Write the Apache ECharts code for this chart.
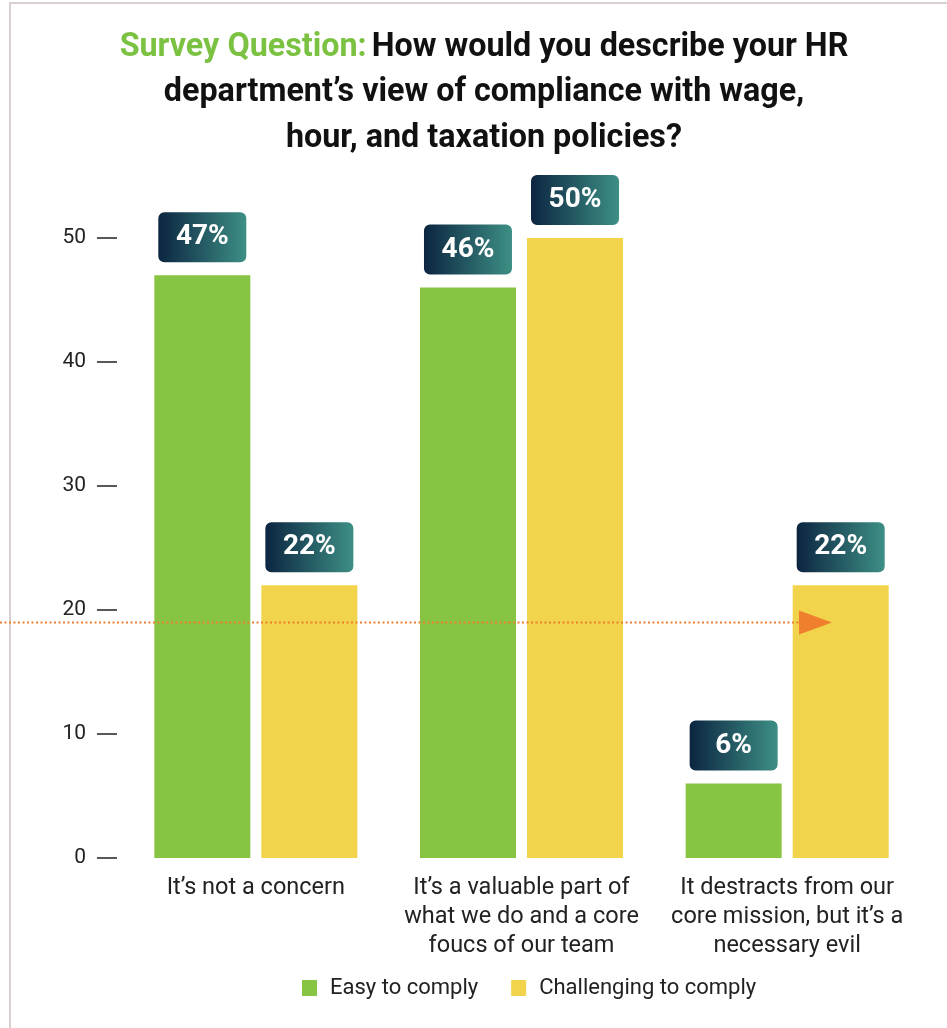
<!DOCTYPE html>
<html>
<head>
<meta charset="utf-8">
<script src="https://cdn.jsdelivr.net/npm/echarts@6/dist/echarts.min.js"></script>
<style>
  html, body { margin: 0; padding: 0; background: #ffffff; }
  #chart { width: 947px; height: 1028px; }
</style>
</head>
<body>
<div id="chart"></div>
<script>
// Answer categories (x axis)
const categories = [
  "It\u2019s not a concern",
  "It\u2019s a valuable part of\nwhat we do and a core\nfoucs of our team",
  "It destracts from our\ncore mission, but it\u2019s a\nnecessary evil"
];
// Share of respondents (%) per group
const easyValues = [47, 46, 6];
const challengingValues = [22, 50, 22];
const seriesNames = ["Easy to comply", "Challenging to comply"];
// Reference level marked by the orange arrow
const arrowLevel = 19;
// Y axis ticks
const yMin = 0, yMax = 50, yStep = 10;

const GREEN = "#87c443";
const YELLOW = "#f1d44b";
const FONT = "Roboto, 'Noto Sans', sans-serif";

const badgeFill = new echarts.graphic.LinearGradient(0, 0, 1, 0, [
  { offset: 0, color: "#0c2541" },
  { offset: 1, color: "#3d8f85" }
]);

const badgeLabel = {
  show: true,
  position: "top",
  distance: 13,
  formatter: "{c}%",
  color: "#ffffff",
  fontFamily: FONT,
  fontWeight: "bold",
  fontSize: 28,
  backgroundColor: badgeFill,
  borderRadius: 6,
  width: 88,
  height: 50,
  lineHeight: 50,
  align: "center"
};

const chart = echarts.init(document.getElementById("chart"), null, { renderer: "canvas" });

chart.setOption({
  backgroundColor: "#ffffff",
  animation: false,
  title: {
    left: 484,
    top: 25,
    padding: 0,
    textAlign: "center",
    text: "{g|Survey Question:} {b|How would you describe your HR}\n{b|department\u2019s view of compliance with wage,}\n{b|hour, and taxation policies?}",
    textStyle: {
      rich: {
        g: { color: "#7cc242", fontFamily: FONT, fontWeight: "bold", fontSize: 32.3, lineHeight: 45.5 },
        b: { color: "#111111", fontFamily: FONT, fontWeight: "bold", fontSize: 32.3, lineHeight: 45.5 }
      }
    }
  },
  legend: {
    left: 297,
    top: 972,
    itemWidth: 15,
    itemHeight: 16,
    itemGap: 33,
    icon: "rect",
    textStyle: { color: "#222222", fontFamily: FONT, fontSize: 22, padding: [0, 0, 0, 8] },
    data: seriesNames
  },
  grid: { left: 123, right: 27, top: 238, bottom: 170, containLabel: false },
  xAxis: {
    type: "category",
    data: categories,
    axisLine: { show: false },
    axisTick: { show: false },
    axisLabel: {
      color: "#222222",
      fontFamily: FONT,
      fontSize: 23.5,
      lineHeight: 29,
      margin: 16,
      interval: 0
    }
  },
  yAxis: {
    type: "value",
    min: yMin,
    max: yMax,
    interval: yStep,
    offset: 6,
    splitLine: { show: false },
    axisLine: { show: false },
    axisTick: { show: true, length: 20, lineStyle: { color: "#222222", width: 1.5 } },
    axisLabel: { color: "#222222", fontFamily: FONT, fontSize: 21, margin: 31 }
  },
  series: [
    {
      name: seriesNames[0],
      type: "bar",
      data: easyValues,
      barWidth: 96,
      barGap: "11.5%",
      itemStyle: { color: GREEN },
      label: badgeLabel
    },
    {
      name: seriesNames[1],
      type: "bar",
      data: challengingValues,
      barWidth: 96,
      barGap: "11.5%",
      itemStyle: { color: YELLOW },
      label: badgeLabel
    }
  ]
});

// Frame lines and the dotted orange arrow at the reference level
const yPix = chart.convertToPixel({ yAxisIndex: 0 }, arrowLevel);
chart.setOption({
  graphic: [
    { type: "rect", shape: { x: 9, y: 2, width: 938, height: 2 }, style: { fill: "#d9cfd0" }, z: 10 },
    { type: "rect", shape: { x: 9, y: 2, width: 2, height: 1026 }, style: { fill: "#d9cfd0" }, z: 10 },
    {
      type: "line",
      shape: { x1: 0, y1: yPix, x2: 800, y2: yPix },
      style: { stroke: "#ef7f2c", lineWidth: 2, lineDash: [2, 2.5] },
      z: 10
    },
    {
      type: "polygon",
      shape: { points: [[799, yPix - 12], [832, yPix], [799, yPix + 12]] },
      style: { fill: "#ef7f2c" },
      z: 10
    }
  ]
});
</script>
</body>
</html>
